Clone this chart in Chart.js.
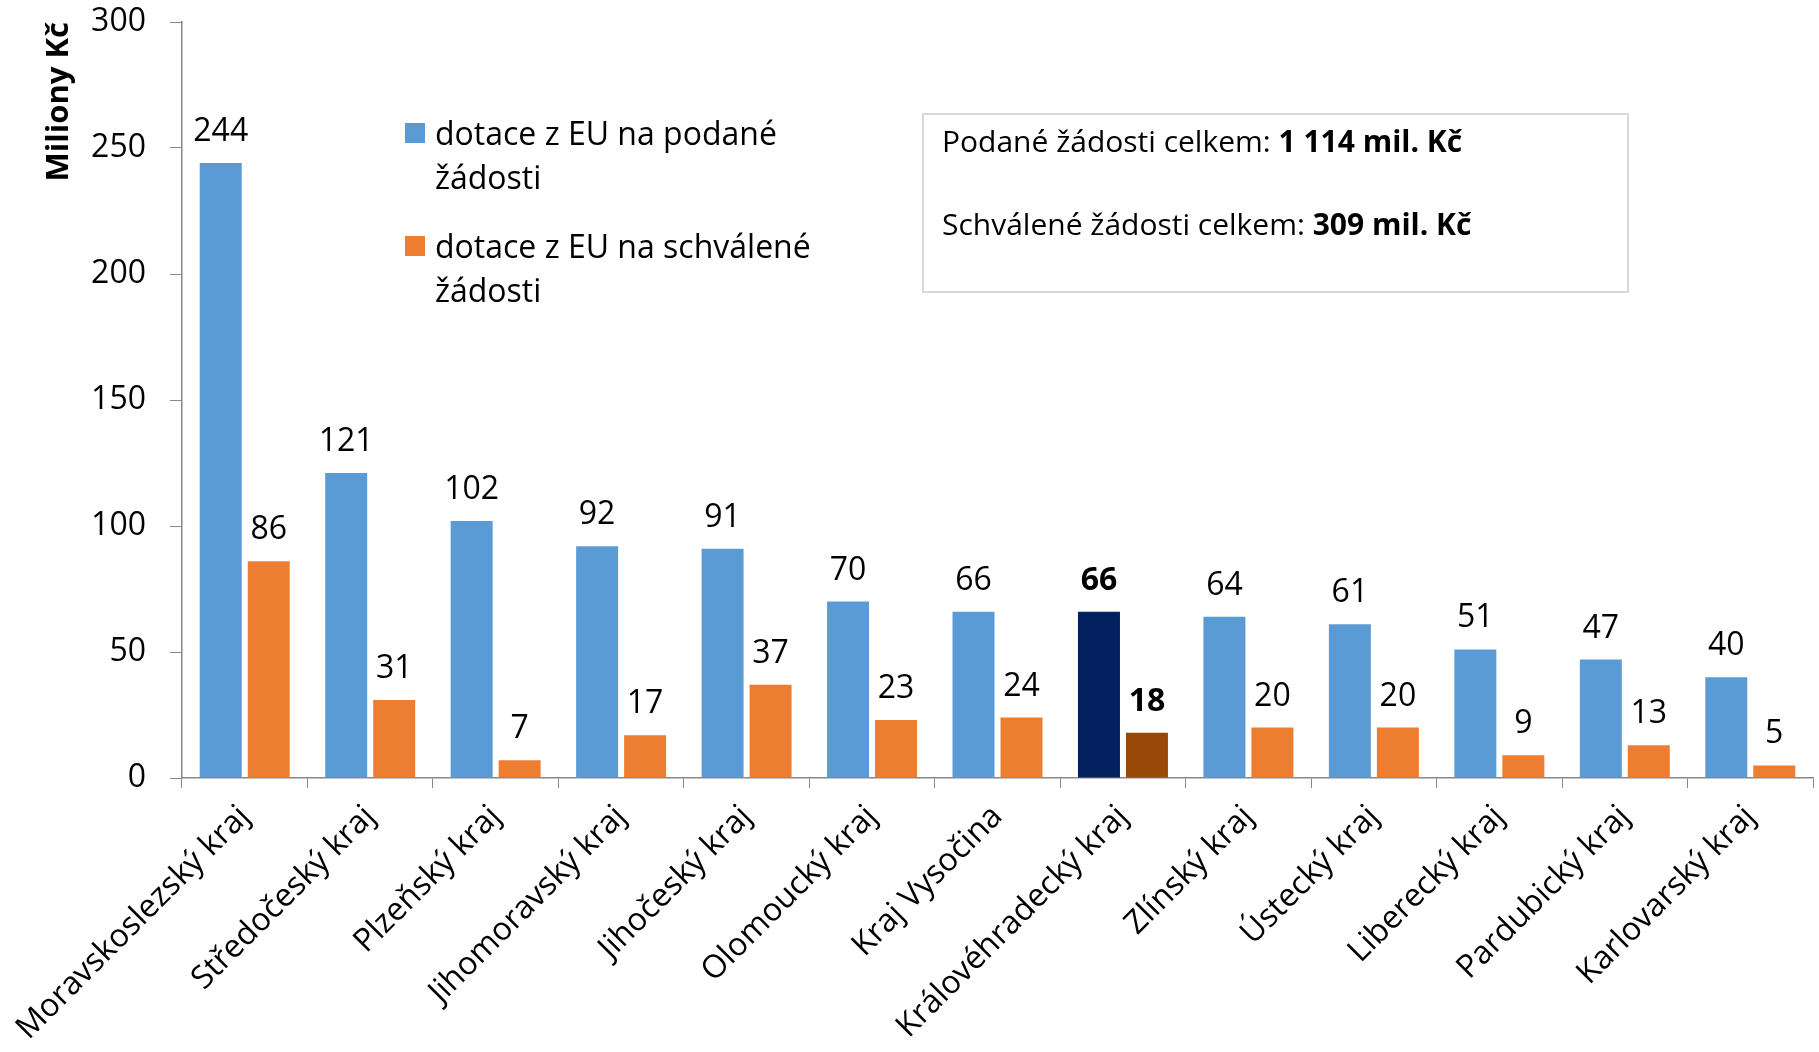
<!DOCTYPE html>
<html><head><meta charset="utf-8">
<script src="https://cdn.jsdelivr.net/npm/chart.js@4"></script>
<style>
html,body{margin:0;padding:0;background:#fff;}
#wrap{position:relative;width:1819px;height:1052px;overflow:hidden;}
#c{position:absolute;left:0;top:0;}
#legend{position:absolute;left:405px;top:111px;font-family:'Open Sans';font-size:32px;line-height:44px;color:#000;}
.item{position:relative;padding-left:30px;width:420px;margin-bottom:25px;}
.sw{position:absolute;left:0;top:12px;width:20px;height:20px;}
#info{position:absolute;left:922px;top:113px;width:707px;height:180px;box-sizing:border-box;border:2px solid #d9d9d9;font-family:'Open Sans';font-size:30px;color:#000;}
#info div{position:absolute;left:18px;line-height:40px;white-space:nowrap;}
</style></head>
<body>
<div id="wrap">
<canvas id="c" width="1819" height="1052"></canvas>
<div id="legend"></div>
<div id="info">
  <div style="top:6px">Podané žádosti celkem: <b id="t1"></b></div>
  <div style="top:89px">Schválené žádosti celkem: <b id="t2"></b></div>
</div>
</div>
<script>
const categories = ['Moravskoslezský kraj','Středočeský kraj','Plzeňský kraj','Jihomoravský kraj','Jihočeský kraj','Olomoucký kraj','Kraj Vysočina','Královéhradecký kraj','Zlínský kraj','Ústecký kraj','Liberecký kraj','Pardubický kraj','Karlovarský kraj'];
const podane = [244,121,102,92,91,70,66,66,64,61,51,47,40];
const schvalene = [86,31,7,17,37,23,24,18,20,20,9,13,5];
const seriesNames = ['dotace z EU na podané žádosti','dotace z EU na schválené žádosti'];
const highlighted = 'Královéhradecký kraj';
const totalPodane = '1 114 mil. Kč';
const totalSchvalene = '309 mil. Kč';
const yMin = 0, yMax = 300, yStep = 50;

const FONT = 'Open Sans';
const blue = '#5B9BD5', orange = '#ED7D31', navy = '#03215E', brown = '#984807';

document.getElementById('t1').textContent = totalPodane;
document.getElementById('t2').textContent = totalSchvalene;

const valueLabels = {
  id: 'valueLabels',
  afterDatasetsDraw(chart) {
    const ctx = chart.ctx;
    chart.data.datasets.forEach((ds, di) => {
      const meta = chart.getDatasetMeta(di);
      meta.data.forEach((bar, i) => {
        const bold = chart.data.labels[i] === highlighted;
        ctx.save();
        ctx.font = (bold ? 'bold ' : '') + '32px "' + FONT + '"';
        ctx.fillStyle = '#000';
        ctx.textAlign = 'center';
        ctx.textBaseline = 'alphabetic';
        ctx.fillText(String(ds.data[i]), bar.x, bar.y - 22);
        ctx.restore();
      });
    });
  }
};

const chart = new Chart(document.getElementById('c'), {
  type: 'bar',
  data: {
    labels: categories,
    datasets: [
      { label: seriesNames[0], data: podane,
        backgroundColor: categories.map(c => c === highlighted ? navy : blue),
        legendColor: blue,
        categoryPercentage: 0.765, barPercentage: 0.875 },
      { label: seriesNames[1], data: schvalene,
        backgroundColor: categories.map(c => c === highlighted ? brown : orange),
        legendColor: orange,
        categoryPercentage: 0.765, barPercentage: 0.875 }
    ]
  },
  options: {
    responsive: false,
    animation: false,
    devicePixelRatio: 1,
    layout: { padding: { top: 22, right: 6, left: 0, bottom: 0 } },
    plugins: { legend: { display: false }, tooltip: { enabled: false } },
    scales: {
      x: {
        grid: { drawOnChartArea: false, color: '#888888', tickLength: 10, offset: true },
        border: { color: '#888888', width: 1.5 },
        ticks: { autoSkip: false, minRotation: 45, maxRotation: 45, color: '#000',
                 font: { family: FONT, size: 32 }, padding: 10 },
        afterFit(s) { s.height = 274; s.paddingLeft = 0; s.paddingRight = 0; }
      },
      y: {
        min: yMin, max: yMax,
        ticks: { stepSize: yStep, color: '#000', font: { family: FONT, size: 32 }, padding: 24 },
        grid: { drawOnChartArea: false, color: '#888888', tickLength: 12 },
        border: { color: '#888888', width: 1.5 },
        title: { display: true, text: 'Miliony Kč', align: 'end', color: '#000',
                 font: { family: FONT, size: 31, weight: 'bold' }, padding: { top: 41, bottom: 0 } },
        afterFit(s) { s.width = 182; s.paddingTop = 0; s.paddingBottom = 0; }
      }
    }
  },
  plugins: [valueLabels]
});

const leg = document.getElementById('legend');
chart.data.datasets.forEach(ds => {
  const it = document.createElement('div');
  it.className = 'item';
  const sw = document.createElement('span');
  sw.className = 'sw';
  sw.style.background = ds.legendColor;
  it.appendChild(sw);
  it.appendChild(document.createTextNode(ds.label));
  leg.appendChild(it);
});
</script>
</body></html>
